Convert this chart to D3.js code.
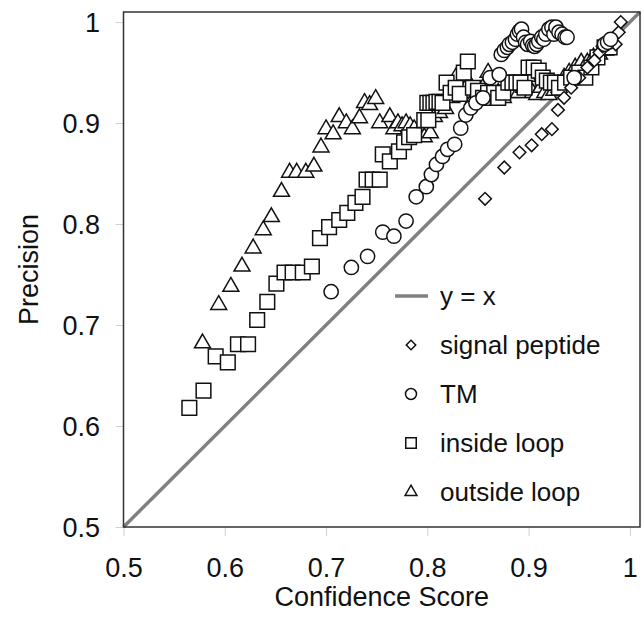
<!DOCTYPE html>
<html lang="en">
<head>
  <meta charset="UTF-8">
  <title>Precision vs Confidence Score</title>
  <style>
    body { margin: 0; background: #fff; font-family: "Liberation Sans", Arial, sans-serif; }
    svg text { fill: #111; }
  </style>
  <script src="https://d3js.org/d3.v7.min.js"></script>
</head>
<body>
  <svg id="chart" width="644" height="618"></svg>
  <script>
    // [confidence, precision]
    const signalPeptide = [
      [0.857,0.825],[0.876,0.856],[0.891,0.871],[0.903,0.878],[0.913,0.889],[0.923,0.894],
      [0.929,0.913],[0.935,0.925],[0.942,0.935],[0.950,0.945],[0.958,0.955],[0.965,0.962],
      [0.970,0.970],[0.973,0.976],[0.976,0.980],[0.979,0.982],[0.982,0.980],[0.986,0.978],
      [0.989,0.990],[0.991,1.000]
    ];
    const tm = [
      [0.705,0.733],[0.725,0.757],[0.741,0.768],[0.756,0.792],[0.767,0.788],[0.779,0.803],
      [0.789,0.827],[0.799,0.837],[0.804,0.849],[0.809,0.859],[0.815,0.867],[0.820,0.874],
      [0.827,0.879],[0.833,0.895],[0.838,0.908],[0.843,0.915],[0.848,0.920],[0.855,0.925],
      [0.862,0.945],[0.871,0.948],
      [0.873,0.968],[0.876,0.972],[0.879,0.975],[0.881,0.978],[0.884,0.980],[0.887,0.983],
      [0.889,0.988],[0.891,0.991],[0.893,0.993],[0.895,0.985],[0.897,0.980],[0.899,0.978],
      [0.902,0.981],[0.904,0.977],[0.906,0.976],[0.908,0.978],[0.910,0.981],[0.913,0.985],
      [0.915,0.983],[0.917,0.988],[0.920,0.993],[0.923,0.995],[0.925,0.988],[0.927,0.995],
      [0.930,0.990],[0.933,0.988],[0.936,0.985],[0.938,0.985],
      [0.945,0.945],[0.975,0.978],[0.978,0.980],[0.981,0.983]
    ];
    const insideLoop = [
      [0.565,0.618],[0.579,0.635],[0.591,0.669],[0.603,0.663],[0.613,0.681],[0.623,0.681],
      [0.632,0.705],[0.642,0.723],[0.651,0.741],[0.659,0.752],[0.667,0.752],[0.677,0.752],
      [0.686,0.758],[0.694,0.786],[0.703,0.797],[0.713,0.804],[0.721,0.811],[0.729,0.821],
      [0.736,0.827],[0.740,0.844],[0.746,0.844],[0.753,0.844],[0.756,0.869],[0.763,0.862],
      [0.772,0.872],[0.777,0.881],[0.782,0.886],[0.787,0.888],[0.797,0.903],[0.801,0.903],
      [0.800,0.920],[0.803,0.920],[0.806,0.920],[0.809,0.921],[0.812,0.921],[0.815,0.920],
      [0.819,0.940],[0.823,0.930],[0.828,0.935],[0.832,0.929],[0.836,0.950],[0.840,0.961],
      [0.845,0.935],[0.850,0.932],[0.855,0.925],[0.860,0.930],[0.866,0.930],[0.870,0.925],
      [0.875,0.930],[0.880,0.940],[0.884,0.940],[0.888,0.940],[0.892,0.940],[0.896,0.935],
      [0.900,0.955],[0.905,0.955],[0.910,0.952],[0.914,0.945],[0.918,0.942],[0.922,0.940],
      [0.926,0.940],[0.930,0.935],[0.936,0.940],[0.942,0.945],[0.950,0.950],[0.956,0.945],
      [0.962,0.955],[0.968,0.965],[0.975,0.975],[0.980,0.975]
    ];
    const outsideLoop = [
      [0.578,0.682],[0.594,0.720],[0.606,0.738],[0.617,0.758],[0.628,0.776],[0.638,0.794],
      [0.646,0.807],[0.656,0.832],[0.664,0.851],[0.671,0.851],[0.680,0.851],[0.688,0.857],
      [0.695,0.876],[0.700,0.894],[0.707,0.889],[0.713,0.906],[0.720,0.900],[0.726,0.894],
      [0.733,0.905],[0.738,0.920],[0.743,0.918],[0.749,0.924],
      [0.753,0.900],[0.763,0.906],[0.767,0.894],[0.771,0.900],[0.775,0.897],[0.779,0.900],
      [0.783,0.897],[0.787,0.894],[0.791,0.890],[0.797,0.886],[0.803,0.890],[0.807,0.906],
      [0.812,0.910],[0.818,0.914],[0.824,0.925],[0.828,0.945],[0.832,0.935],[0.836,0.930],
      [0.841,0.940],[0.846,0.925],[0.850,0.930],[0.855,0.935],[0.860,0.950],[0.865,0.925],
      [0.870,0.930],[0.875,0.925],[0.880,0.935],[0.885,0.930],[0.890,0.930],[0.895,0.935],
      [0.899,0.946],[0.904,0.930],[0.908,0.928],[0.912,0.935],[0.916,0.930],[0.920,0.928],
      [0.925,0.932],[0.930,0.935],[0.935,0.945],[0.940,0.950],[0.946,0.955],[0.952,0.960],
      [0.958,0.960],[0.964,0.965],[0.970,0.968],[0.976,0.972]
    ];
    const tickValues = [0.5, 0.6, 0.7, 0.8, 0.9, 1];
    const legendLabels = ['y = x', 'signal peptide', 'TM', 'inside loop', 'outside loop'];

    const svg = d3.select('#chart');
    const m = { left: 123.5, right: 640, top: 12, bottom: 527 };
    const fontSize = 27;

    const x = d3.scaleLinear().domain([0.5, 1.01]).range([m.left, m.right]);
    const y = d3.scaleLinear().domain([0.5, 1.01]).range([m.bottom, m.top]);

    const fmt = d => d === 1 ? '1' : d3.format('.1f')(d);

    // axes: light gray ticks outside the frame
    const xAxis = svg.append('g')
      .attr('transform', `translate(0,${m.bottom})`)
      .call(d3.axisBottom(x).tickValues(tickValues).tickSize(9).tickPadding(22).tickFormat(fmt));
    const yAxis = svg.append('g')
      .attr('transform', `translate(${m.left},0)`)
      .call(d3.axisLeft(y).tickValues(tickValues).tickSize(8).tickPadding(15.5).tickFormat(fmt));
    [xAxis, yAxis].forEach(a => {
      a.select('.domain').remove();
      a.selectAll('.tick line').attr('stroke', '#d0d0d0').attr('stroke-width', 1);
      a.selectAll('.tick text')
        .attr('font-family', '"Liberation Sans", Arial, sans-serif')
        .attr('font-size', fontSize).attr('fill', '#111');
    });
    yAxis.selectAll('.tick text').attr('dy', '0.36em');

    // y = x reference line
    svg.append('line')
      .attr('x1', x(0.5)).attr('y1', y(0.5))
      .attr('x2', x(1.01)).attr('y2', y(1.01))
      .attr('stroke', '#808080').attr('stroke-width', 3.5);

    const shapes = {
      diamond: d3.symbol().type(d3.symbolSquare).size(80),
      circle: d3.symbol().type(d3.symbolCircle).size(160),
      square: d3.symbol().type(d3.symbolSquare).size(215),
      triangle: d3.symbol().type(d3.symbolTriangle).size(110)
    };
    const series = [
      { data: outsideLoop, shape: 'triangle' },
      { data: insideLoop, shape: 'square' },
      { data: signalPeptide, shape: 'diamond' },
      { data: tm, shape: 'circle' }
    ];

    const marks = svg.append('g');
    series.forEach(s => {
      marks.append('g').selectAll('path')
        .data(s.data)
        .join('path')
        .attr('d', shapes[s.shape]())
        .attr('transform', d => `translate(${x(d[0])},${y(d[1])})` + (s.shape === 'diamond' ? ' rotate(45)' : ''))
        .attr('fill', '#fff')
        .attr('stroke', '#111')
        .attr('stroke-width', 1.5);
    });

    // frame
    svg.append('rect')
      .attr('x', m.left).attr('y', m.top)
      .attr('width', m.right - m.left).attr('height', m.bottom - m.top)
      .attr('fill', 'none').attr('stroke', '#333').attr('stroke-width', 1.5);

    // legend
    const legendShapes = [null, 'diamond', 'circle', 'square', 'triangle'];
    const legendSymbols = {
      diamond: d3.symbol().type(d3.symbolSquare).size(45),
      circle: d3.symbol().type(d3.symbolCircle).size(95),
      square: d3.symbol().type(d3.symbolSquare).size(110),
      triangle: d3.symbol().type(d3.symbolTriangle).size(60)
    };
    const legend = svg.append('g');
    legendLabels.forEach((label, i) => {
      const ly = 296 + i * 49;
      if (i === 0) {
        legend.append('line')
          .attr('x1', 395).attr('x2', 428).attr('y1', ly).attr('y2', ly)
          .attr('stroke', '#808080').attr('stroke-width', 3.5);
      } else {
        const sh = legendShapes[i];
        legend.append('path')
          .attr('d', legendSymbols[sh]())
          .attr('transform', `translate(411,${ly})` + (sh === 'diamond' ? ' rotate(45)' : ''))
          .attr('fill', '#fff').attr('stroke', '#111').attr('stroke-width', 1.5);
      }
      legend.append('text')
        .attr('x', 440).attr('y', ly).attr('dy', '0.36em')
        .attr('font-size', 26)
        .text(label);
    });

    // axis titles
    svg.append('text')
      .attr('x', (m.left + m.right) / 2).attr('y', 606)
      .attr('text-anchor', 'middle').attr('font-size', fontSize)
      .text('Confidence Score');
    svg.append('text')
      .attr('transform', `translate(38,${(m.top + m.bottom) / 2}) rotate(-90)`)
      .attr('text-anchor', 'middle').attr('font-size', fontSize)
      .text('Precision');
  </script>
</body>
</html>
